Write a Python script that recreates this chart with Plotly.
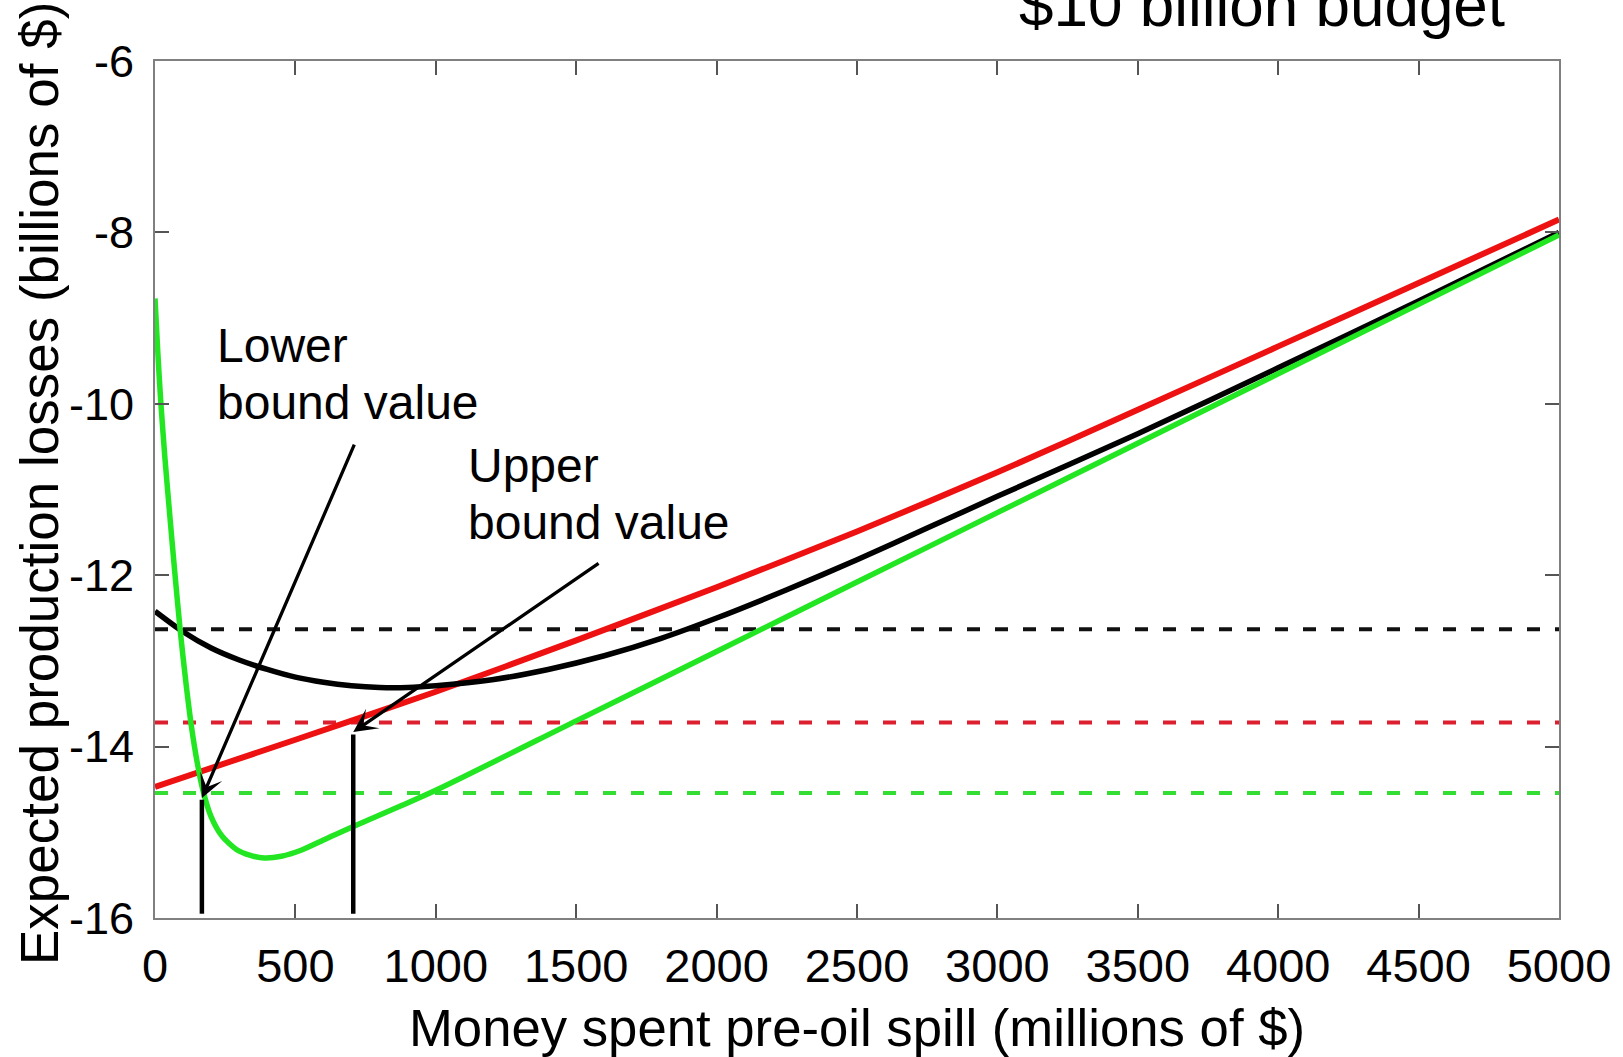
import plotly.graph_objects as go

# ---------------- data ----------------
x_red = [0, 500, 1000, 1500, 2000, 2500, 3000, 3500, 4000, 4500, 5000]
y_red = [-14.47, -13.92, -13.36, -12.76, -12.14, -11.49, -10.80, -10.07, -9.33, -8.59, -7.85]

x_black = [0, 100, 200, 300, 400, 500, 600, 700, 800, 900, 1000, 1200, 1400, 1600,
           1800, 2000, 2250, 2500, 2750, 3000, 3500, 4000, 4500, 5000]
y_black = [-12.42, -12.66, -12.85, -12.99, -13.10, -13.19, -13.25, -13.29, -13.31, -13.31,
           -13.29, -13.22, -13.10, -12.94, -12.74, -12.50, -12.17, -11.82, -11.45, -11.08,
           -10.35, -9.58, -8.80, -8.00]

x_green = [0, 10, 20, 35, 50, 70, 90, 110, 130, 150, 170, 200, 240, 290, 340, 390, 450,
           520, 600, 700, 870, 1000, 1500, 2000, 2500, 3000, 3500, 4000, 4500, 5000]
y_green = [-8.77, -9.40, -9.95, -10.62, -11.20, -11.95, -12.65, -13.25, -13.77, -14.18,
           -14.50, -14.82, -15.05, -15.20, -15.27, -15.30, -15.28, -15.21, -15.09, -14.94,
           -14.70, -14.51, -13.70, -12.89, -12.08, -11.27, -10.46, -9.65, -8.84, -8.03]

x_span = [0, 5000]
level_black = -12.63
level_red = -13.72
level_green = -14.54

bound_x = [167, 706]          # lower / upper bound locations
bound_top = [-14.62, -13.86]  # tops of the vertical markers
bound_bottom = -15.95
arrow_tail_x = [712, 1585]
arrow_tail_y = [-10.46, -11.85]
arrow_head_y = [-14.60, -13.83]

x_ticks = [0, 500, 1000, 1500, 2000, 2500, 3000, 3500, 4000, 4500, 5000]
y_ticks = [-16, -14, -12, -10, -8, -6]

FONT = "Liberation Sans, Arial, sans-serif"
RED = "#ee1111"
GREEN = "#22e622"

W, H = 1623, 1057
L, R, T, B = 155, 64, 61, 139
pw, ph = W - L - R, H - T - B


def px2paper(xp, yp):
    return (xp - L) / pw, 1 - (yp - T) / ph


fig = go.Figure()

# dashed reference levels
for lvl, col in [(level_black, "#111111"), (level_red, "#dd2030"), (level_green, "#33dd33")]:
    fig.add_trace(go.Scatter(x=x_span, y=[lvl, lvl], mode="lines",
                             line=dict(color=col, width=4, dash="13px,15px"),
                             showlegend=False, hoverinfo="skip"))

fig.add_trace(go.Scatter(x=x_red, y=y_red, mode="lines",
                         line=dict(color=RED, width=6, shape="spline", smoothing=0.7),
                         showlegend=False))
fig.add_trace(go.Scatter(x=x_black, y=y_black, mode="lines",
                         line=dict(color="#000000", width=5.5, shape="spline", smoothing=0.7),
                         showlegend=False))
fig.add_trace(go.Scatter(x=x_green, y=y_green, mode="lines",
                         line=dict(color=GREEN, width=5.5, shape="spline", smoothing=0.7),
                         showlegend=False))

# vertical bound markers
for bx, bt in zip(bound_x, bound_top):
    fig.add_trace(go.Scatter(x=[bx, bx], y=[bound_bottom, bt], mode="lines",
                             line=dict(color="#000000", width=4.5),
                             showlegend=False, hoverinfo="skip"))

# arrows
for bx, hy, tx, ty in zip(bound_x, arrow_head_y, arrow_tail_x, arrow_tail_y):
    fig.add_annotation(x=bx, y=hy, xref="x", yref="y", ax=tx, ay=ty,
                       axref="x", ayref="y", text="", showarrow=True,
                       arrowhead=3, arrowsize=1.2, arrowwidth=3.3,
                       arrowcolor="#000000", standoff=0, startstandoff=0)

# label lines (pixel positions of box tops)
label_lines = [("Lower", 215, 317), ("bound value", 215, 374),
               ("Upper", 466, 437), ("bound value", 466, 494)]
for txt, xp, yp in label_lines:
    px_, py_ = px2paper(xp, yp)
    fig.add_annotation(x=px_, y=py_, xref="paper", yref="paper", text=txt,
                       showarrow=False, xanchor="left", yanchor="top", align="left",
                       font=dict(family=FONT, size=48, color="#000000"))

# title (partly cut off at the top, as in the reference)
tx_, ty_ = px2paper(1262, 41)
fig.add_annotation(x=tx_, y=ty_, xref="paper", yref="paper", text="$10 billion budget",
                   showarrow=False, xanchor="center", yanchor="bottom",
                   font=dict(family=FONT, size=62, color="#000000"))

# y axis title as rotated annotation
yx, yy = px2paper(39, 484)
fig.add_annotation(x=yx, y=yy, xref="paper", yref="paper",
                   text="Expected production losses (billions of $)",
                   showarrow=False, xanchor="center", yanchor="middle", textangle=-90,
                   font=dict(family=FONT, size=53, color="#000000"))

axis_common = dict(showgrid=False, zeroline=False, showline=True, linecolor="#808080",
                   linewidth=2, mirror="ticks", ticks="inside", ticklen=14, tickwidth=1.5,
                   tickcolor="#555555")

fig.update_xaxes(range=[0, 5000], tickvals=x_ticks, ticktext=[str(v) for v in x_ticks],
                 tickfont=dict(family=FONT, size=47, color="#000000"),
                 ticklabelstandoff=6,
                 title=dict(text="Money spent pre-oil spill (millions of $)",
                            font=dict(family=FONT, size=52.7, color="#000000"), standoff=22),
                 **axis_common)
fig.update_yaxes(range=[-16, -6], tickvals=y_ticks, ticktext=[str(v) for v in y_ticks],
                 tickfont=dict(family=FONT, size=45, color="#000000"),
                 ticklabelstandoff=10, **axis_common)

fig.update_layout(width=W, height=H, margin=dict(l=L, r=R, t=T, b=B, autoexpand=False),
                  plot_bgcolor="white", paper_bgcolor="white",
                  font=dict(family=FONT, color="#000000"))

fig.write_html("out.html")
